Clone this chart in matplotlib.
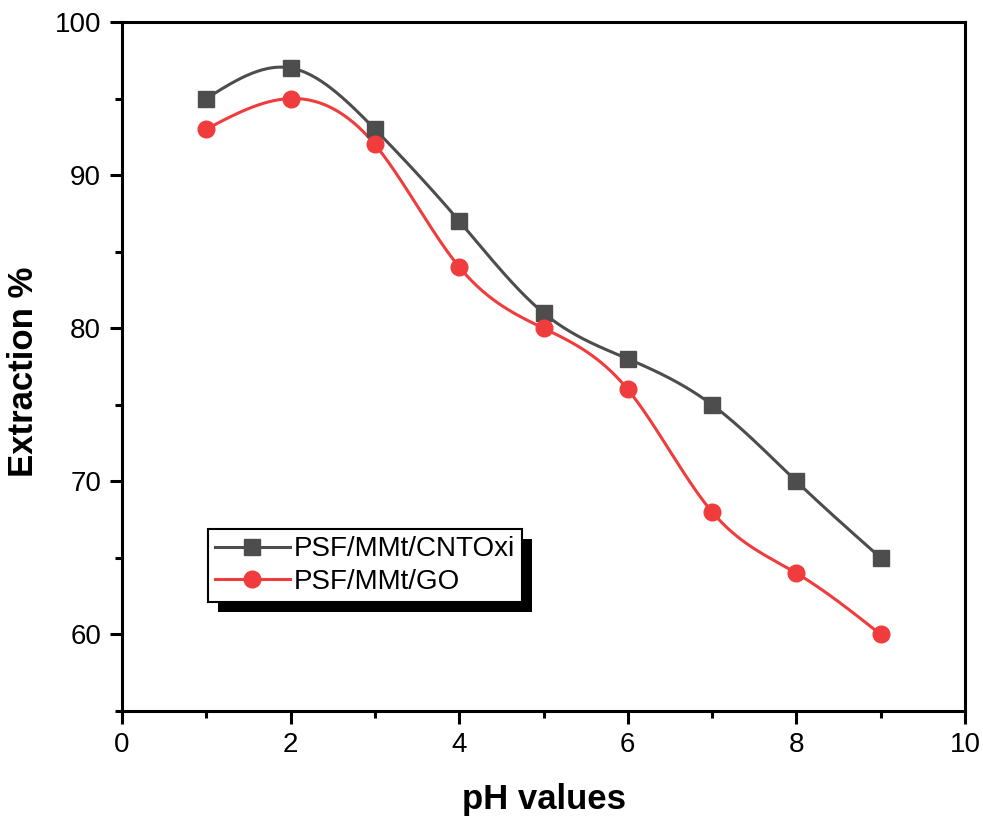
import numpy as np
import matplotlib
matplotlib.use("Agg")
import matplotlib.pyplot as plt
from matplotlib.patches import Rectangle
from matplotlib.ticker import MultipleLocator

PH = [1, 2, 3, 4, 5, 6, 7, 8, 9]
CNTOXI = [95, 97, 93, 87, 81, 78, 75, 70, 65]
GO = [93, 95, 92, 84, 80, 76, 68, 64, 60]
LABELS = ["PSF/MMt/CNTOxi", "PSF/MMt/GO"]


def natural_spline(x, y, n=400):
    # smooth curve through the points, like Origin's spline connect
    x = np.asarray(x, float)
    y = np.asarray(y, float)
    k = len(x)
    h = np.diff(x)
    a = np.zeros((k, k))
    b = np.zeros(k)
    a[0, 0] = a[-1, -1] = 1
    for i in range(1, k - 1):
        a[i, i - 1] = h[i - 1]
        a[i, i] = 2 * (h[i - 1] + h[i])
        a[i, i + 1] = h[i]
        b[i] = 6 * ((y[i + 1] - y[i]) / h[i] - (y[i] - y[i - 1]) / h[i - 1])
    m = np.linalg.solve(a, b)
    xs = np.linspace(x[0], x[-1], n)
    idx = np.clip(np.searchsorted(x, xs) - 1, 0, k - 2)
    x0, x1 = x[idx], x[idx + 1]
    hh = x1 - x0
    t0, t1 = x1 - xs, xs - x0
    ys = (m[idx] * t0 ** 3 + m[idx + 1] * t1 ** 3) / (6 * hh) \
        + (y[idx] / hh - m[idx] * hh / 6) * t0 \
        + (y[idx + 1] / hh - m[idx + 1] * hh / 6) * t1
    return xs, ys


plt.rcParams["font.family"] = ["Liberation Sans", "DejaVu Sans"]

fig = plt.figure(figsize=(9.83, 8.21), dpi=100)
ax = fig.add_axes([0.1241, 0.1340, 0.8576, 0.8392])

styles = [
    dict(color="#4d4d4d", marker="s"),
    dict(color="#f03c3c", marker="o"),
]
for y, label, st in zip([CNTOXI, GO], LABELS, styles):
    xs, ys = natural_spline(PH, y)
    ax.plot(xs, ys, color=st["color"], linewidth=2.2, zorder=2)
    ax.plot(PH, y, linestyle="none", marker=st["marker"], markersize=12,
            color=st["color"], zorder=3)
    ax.plot([], [], color=st["color"], linewidth=2.2, marker=st["marker"],
            markersize=12, label=label)

ax.set_xlim(0, 10)
ax.set_ylim(55, 100)
ax.xaxis.set_major_locator(MultipleLocator(2))
ax.xaxis.set_minor_locator(MultipleLocator(1))
ax.yaxis.set_minor_locator(MultipleLocator(5))
ax.set_yticks([60, 70, 80, 90, 100])
ax.tick_params(which="major", direction="out", length=9, width=2.2, labelsize=20, pad=6)
ax.tick_params(which="minor", direction="out", length=5, width=2.2)
for s in ax.spines.values():
    s.set_linewidth(2.2)

ax.set_xlabel("pH values", fontsize=25, fontweight="bold", labelpad=18)
ax.set_ylabel("Extraction %", fontsize=25, fontweight="bold")
ax.yaxis.set_label_coords(-0.097, 0.493)

leg = ax.legend(loc="lower left", bbox_to_anchor=(0.102, 0.158), fontsize=20,
                frameon=True, fancybox=False, shadow=False, edgecolor="black",
                handlelength=2.7, borderpad=0.25, labelspacing=0.25,
                handletextpad=0.15, borderaxespad=0)
leg.get_frame().set_linewidth(1.5)
leg.get_frame().set_alpha(1)

# black drop shadow behind the legend box
fig.canvas.draw()
bb = leg.get_window_extent().transformed(fig.transFigure.inverted())
dx, dy = 10 / fig.bbox.width, 10 / fig.bbox.height
shadow = Rectangle((bb.x0 + dx, bb.y0 - dy), bb.width, bb.height,
                   transform=fig.transFigure, facecolor="black",
                   edgecolor="none", zorder=4.5, clip_on=False)
ax.add_patch(shadow)

fig.savefig("out.png", dpi=100)
